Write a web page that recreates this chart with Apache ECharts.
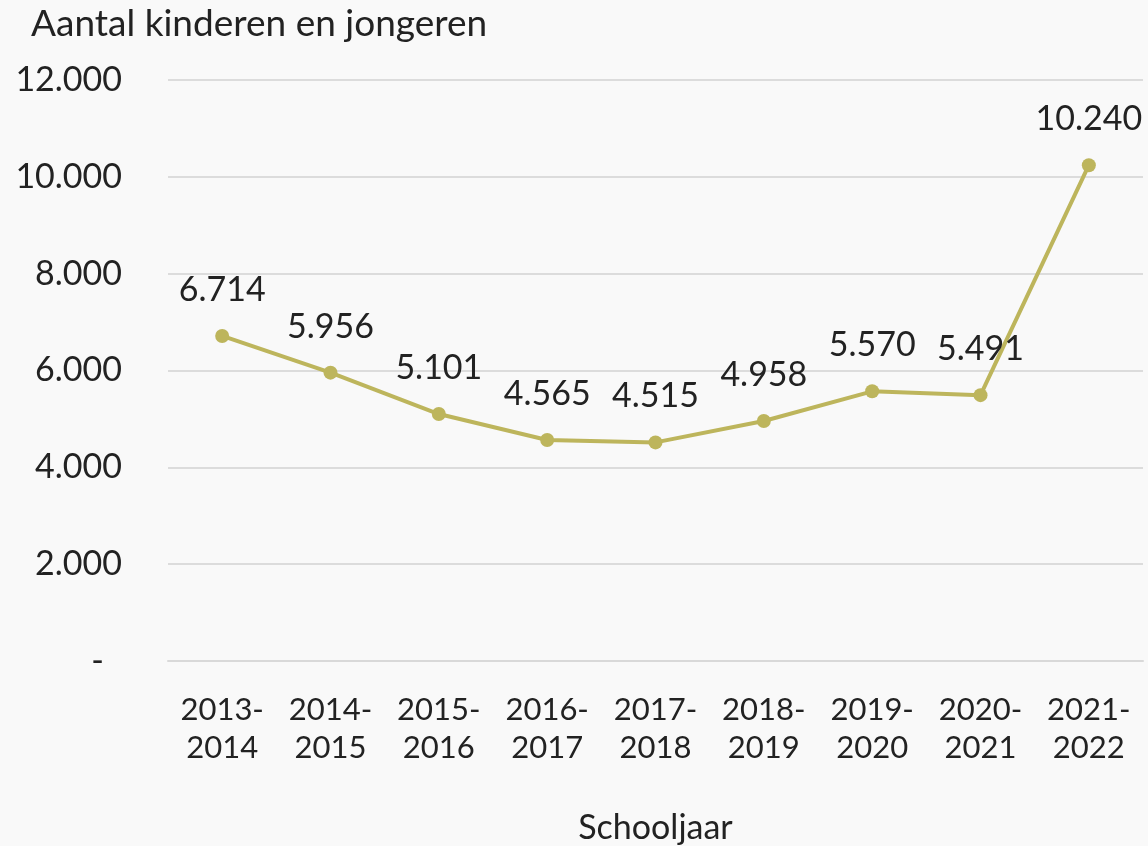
<!DOCTYPE html>
<html>
<head>
<meta charset="utf-8">
<script src="https://cdn.jsdelivr.net/npm/echarts@6/dist/echarts.min.js"></script>
<style>
  html, body { margin: 0; padding: 0; background: #f9f9f9; }
  #main { width: 1148px; height: 846px; }
</style>
</head>
<body>
<div id="main"></div>
<script>
const schooljaren = ['2013-\n2014', '2014-\n2015', '2015-\n2016', '2016-\n2017', '2017-\n2018',
  '2018-\n2019', '2019-\n2020', '2020-\n2021', '2021-\n2022']
const aantallen = [6714, 5956, 5101, 4565, 4515, 4958, 5570, 5491, 10240]

const fontFamily = 'Lato, sans-serif'
const fmt = v => v === 0 ? '-' : String(v).replace(/\B(?=(\d{3})+(?!\d))/g, '.')

const chart = echarts.init(document.getElementById('main'))
chart.setOption({
  backgroundColor: '#f9f9f9',
  animation: false,
  title: {
    text: 'Aantal kinderen en jongeren',
    left: 26, top: 1,
    textStyle: { fontFamily, fontSize: 37, fontWeight: 'normal', color: '#222' }
  },
  grid: { left: 168, right: 5, top: 80, bottom: 185, outerBoundsMode: 'none' },
  xAxis: {
    type: 'category',
    data: schooljaren,
    name: 'Schooljaar',
    nameLocation: 'middle',
    nameGap: 150,
    nameTextStyle: { fontFamily, fontSize: 34, color: '#222' },
    axisLine: { lineStyle: { color: '#d9d9d9', width: 2 } },
    axisTick: { length: 10, lineStyle: { color: '#d9d9d9', width: 2 } },
    axisLabel: { interval: 0, fontFamily, fontSize: 31, color: '#222', lineHeight: 38, margin: 30 }
  },
  yAxis: {
    type: 'value',
    min: 0, max: 12000, interval: 2000,
    axisLine: { show: false },
    axisTick: { show: false },
    splitLine: { lineStyle: { color: '#dcdcdc', width: 2 } },
    axisLabel: {
      fontFamily, fontSize: 34, color: '#222', margin: 46,
      formatter: v => v === 0 ? '{z|-}' : fmt(v),
      rich: { z: { fontFamily, fontSize: 34, color: '#222', padding: [0, 18, 0, 0] } }
    }
  },
  series: [{
    type: 'line',
    data: aantallen,
    symbol: 'circle',
    symbolSize: 14,
    lineStyle: { color: '#bdb55c', width: 4 },
    itemStyle: { color: '#bdb55c' },
    label: {
      show: true, position: 'top', distance: 22,
      fontFamily, fontSize: 34, color: '#222',
      formatter: p => fmt(p.value)
    }
  }]
})
</script>
</body>
</html>
